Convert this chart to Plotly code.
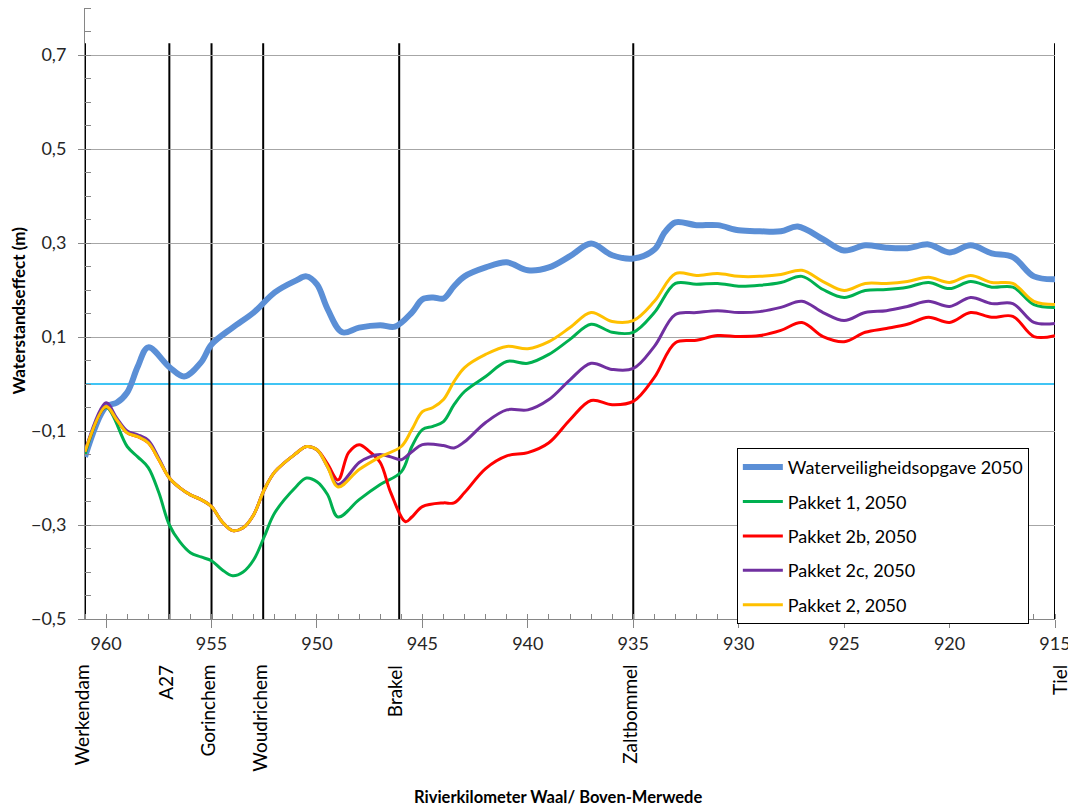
import plotly.graph_objects as go

# ---------------- data ----------------
km_blue = [961, 960, 959.5, 959, 958.5, 958, 957, 956.3, 955.5, 955, 954, 953, 952, 951, 950.5,
           950, 949.5, 948.8, 948, 947, 946.3, 945.5, 945, 944.5, 944, 943.5, 943, 942, 941, 940,
           939, 938, 937, 936, 935, 934, 933.5, 933, 932, 931, 930, 929, 928, 927.2, 926, 925,
           924, 923, 922, 921, 920, 919, 918, 917, 916, 915]
wvo_2050 = [-0.155, -0.048, -0.04, -0.018, 0.037, 0.078, 0.036, 0.016, 0.046, 0.084, 0.12, 0.152,
            0.195, 0.22, 0.229, 0.212, 0.16, 0.11, 0.12, 0.125, 0.122, 0.152, 0.18, 0.184, 0.182,
            0.208, 0.229, 0.248, 0.259, 0.242, 0.248, 0.272, 0.299, 0.274, 0.267, 0.286, 0.323,
            0.344, 0.338, 0.338, 0.327, 0.325, 0.325, 0.335, 0.308, 0.284, 0.295, 0.29, 0.289,
            0.297, 0.28, 0.295, 0.278, 0.27, 0.229, 0.223]

km_p1 = [961, 960, 959, 958.5, 958, 957.5, 957, 956.5, 956, 955.5, 955, 954.5, 954, 953.5, 953,
         952.5, 952, 951, 950.5, 950, 949.5, 949, 948, 947, 946, 945.5, 945, 944.5, 944, 943.5,
         943, 942, 941, 940, 939, 938, 937, 936, 935, 934, 933, 932, 931, 930, 929, 928, 927,
         926, 925, 924, 923, 922, 921, 920, 919, 918, 917, 916, 915]
pakket1 = [-0.15, -0.05, -0.133, -0.155, -0.178, -0.231, -0.3, -0.336, -0.359, -0.368, -0.376,
           -0.395, -0.408, -0.4, -0.374, -0.325, -0.274, -0.219, -0.2, -0.208, -0.235, -0.283,
           -0.246, -0.214, -0.187, -0.133, -0.097, -0.09, -0.08, -0.044, -0.016, 0.016, 0.048,
           0.044, 0.063, 0.095, 0.127, 0.11, 0.11, 0.152, 0.214, 0.212, 0.214, 0.208, 0.21,
           0.216, 0.229, 0.201, 0.184, 0.199, 0.201, 0.206, 0.216, 0.203, 0.218, 0.206, 0.206,
           0.169, 0.163]

km_p2 = [961, 960, 959.5, 959, 958.5, 958, 957.5, 957, 956.5, 956, 955.5, 955, 954.5, 954, 953.5,
         953, 952.5, 952, 951, 950.5, 950, 949.5, 949, 948, 947, 946, 945.5, 945, 944.5, 944,
         943.5, 943, 942, 941, 940, 939, 938, 937, 936, 935, 934, 933, 932, 931, 930, 929, 928,
         927, 926, 925, 924, 923, 922, 921, 920, 919, 918, 917, 916, 915]
pakket2 = [-0.144, -0.048, -0.076, -0.104, -0.112, -0.125, -0.161, -0.2, -0.221, -0.236, -0.246,
           -0.261, -0.293, -0.312, -0.306, -0.278, -0.225, -0.187, -0.148, -0.133, -0.14, -0.176,
           -0.219, -0.182, -0.155, -0.133, -0.097, -0.059, -0.05, -0.033, 0.005, 0.035, 0.063,
           0.08, 0.075, 0.09, 0.12, 0.152, 0.133, 0.135, 0.176, 0.235, 0.231, 0.235, 0.229,
           0.229, 0.233, 0.242, 0.218, 0.199, 0.214, 0.214, 0.218, 0.227, 0.216, 0.231, 0.216,
           0.214, 0.176, 0.169]

km_p2c = [961, 960, 959.5, 959, 958.5, 958, 957.5, 957, 956.5, 956, 955.5, 955, 954.5, 954, 953.5,
          953, 952.5, 952, 951, 950.5, 950, 949.5, 949, 948, 947.5, 947, 946.5, 946, 945.5, 945,
          944, 943.5, 943, 942, 941, 940, 939, 938, 937, 936, 935, 934, 933, 932, 931, 930, 929,
          928, 927, 926, 925, 924, 923, 922, 921, 920, 919, 918, 917, 916, 915]
pakket2c = [-0.144, -0.04, -0.072, -0.1, -0.108, -0.12, -0.158, -0.2, -0.221, -0.236, -0.246,
            -0.261, -0.293, -0.312, -0.306, -0.278, -0.225, -0.187, -0.148, -0.133, -0.14, -0.176,
            -0.214, -0.167, -0.155, -0.15, -0.155, -0.161, -0.144, -0.129, -0.131, -0.136, -0.123,
            -0.082, -0.055, -0.055, -0.033, 0.009, 0.044, 0.031, 0.033, 0.08, 0.148, 0.152, 0.156,
            0.152, 0.154, 0.163, 0.176, 0.152, 0.135, 0.152, 0.156, 0.165, 0.176, 0.165, 0.184,
            0.171, 0.171, 0.131, 0.129]

km_p2b = [961, 960, 959.5, 959, 958.5, 958, 957.5, 957, 956.5, 956, 955.5, 955, 954.5, 954, 953.5,
          953, 952.5, 952, 951, 950.5, 950, 949.5, 949, 948.5, 948, 947.5, 947, 946.5, 945.8,
          945.5, 945, 944, 943.5, 943, 942, 941, 940, 939, 938, 937, 936, 935, 934, 933, 932,
          931, 930, 929, 928, 927, 926, 925, 924, 923, 922, 921, 920, 919, 918, 917, 916, 915]
pakket2b = [-0.144, -0.048, -0.076, -0.104, -0.112, -0.125, -0.161, -0.2, -0.221, -0.236, -0.246,
            -0.261, -0.293, -0.312, -0.306, -0.278, -0.225, -0.187, -0.148, -0.133, -0.14, -0.17,
            -0.204, -0.146, -0.129, -0.144, -0.167, -0.231, -0.293, -0.283, -0.261, -0.253,
            -0.253, -0.231, -0.18, -0.153, -0.146, -0.125, -0.076, -0.035, -0.044, -0.037, 0.014,
            0.088, 0.093, 0.103, 0.101, 0.103, 0.114, 0.131, 0.101, 0.09, 0.11, 0.118, 0.127,
            0.142, 0.131, 0.152, 0.142, 0.144, 0.101, 0.103]

place_names = ["Werkendam", "A27", "Gorinchem", "Woudrichem", "Brakel", "Zaltbommel", "Tiel"]
place_km = [961, 957, 955, 952.55, 946.1, 935, 915]

series_names = ["Waterveiligheidsopgave 2050", "Pakket 1, 2050", "Pakket 2b, 2050",
                "Pakket 2c, 2050", "Pakket 2, 2050"]

# ---------------- figure ----------------
FONT = "Lato, 'Open Sans', sans-serif"
fig = go.Figure()

# zero line
fig.add_shape(type="line", xref="paper", x0=0, x1=1, yref="y", y0=0, y1=0,
              line=dict(color="#00B0F0", width=1.5), layer="below")

# place marker lines
for k in place_km:
    fig.add_shape(type="line", xref="x", x0=k, x1=k, yref="y", y0=-0.5, y1=0.725,
                  line=dict(color="black", width=2), layer="below")

traces = [
    (km_blue, wvo_2050, "#5B8FD6", 6),
    (km_p1, pakket1, "#00B050", 3),
    (km_p2b, pakket2b, "#FF0000", 3),
    (km_p2c, pakket2c, "#7030A0", 3),
    (km_p2, pakket2, "#FFC000", 3),
]
for i, (xs, ys, col, w) in enumerate(traces):
    fig.add_trace(go.Scatter(x=xs, y=ys, mode="lines", name=series_names[i],
                             line=dict(color=col, width=w, shape="spline", smoothing=1.0),
                             legendgroup=f"g{i}"))

for name, k in zip(place_names, place_km):
    fig.add_annotation(x=k, xref="x", y=-0.072, yref="paper", text=name, textangle=-90,
                       showarrow=False, xanchor="center", yanchor="top",
                       xshift=-4 if k != 915 else 5,
                       font=dict(family=FONT, size=19, color="black"))

fig.add_annotation(x=0.4876, xref="paper", y=-0.291, yref="paper",
                   text="<b>Rivierkilometer Waal/ Boven-Merwede</b>", showarrow=False,
                   xanchor="center", yanchor="middle",
                   font=dict(family=FONT, size=16.5, color="black"))
fig.add_annotation(x=-0.069, xref="paper", y=0.505, yref="paper",
                   text="<b>Waterstandseffect (m)</b>", textangle=-90, showarrow=False,
                   xanchor="center", yanchor="middle",
                   font=dict(family=FONT, size=17, color="black"))

fig.update_layout(
    width=1068, height=799,
    margin=dict(l=77, r=21, t=0, b=188),
    paper_bgcolor="white", plot_bgcolor="white",
    separators=",.",
    font=dict(family=FONT, size=18, color="#262626"),
    showlegend=True,
    legend=dict(x=0.672, y=0.28, xanchor="left", yanchor="top",
                bordercolor="black", borderwidth=1, bgcolor="white",
                font=dict(family=FONT, size=18, color="black"),
                tracegroupgap=8, itemwidth=40),
)
fig.update_xaxes(range=[961, 915], tickmode="linear", tick0=915, dtick=5,
                 ticks="outside", ticklen=8, tickcolor="#868686",
                 showline=True, linecolor="#868686", linewidth=1,
                 showgrid=False, zeroline=False,
                 minor=dict(dtick=1, ticks="inside", ticklen=5, tickcolor="#868686", showgrid=False),
                 tickfont=dict(family=FONT, size=18, color="#262626"))
fig.update_yaxes(range=[-0.5, 0.8], tickmode="linear", tick0=-0.5, dtick=0.2,
                 tickformat=".1f", ticklabelstandoff=8,
                 ticks="outside", ticklen=6, tickcolor="#868686",
                 showline=True, linecolor="#868686", linewidth=1,
                 showgrid=True, gridcolor="#A6A6A6", gridwidth=1, zeroline=False,
                 minor=dict(dtick=0.05, ticks="inside", ticklen=6, tickcolor="#868686", showgrid=False),
                 tickfont=dict(family=FONT, size=18, color="#262626"))

fig.write_html("out.html")
